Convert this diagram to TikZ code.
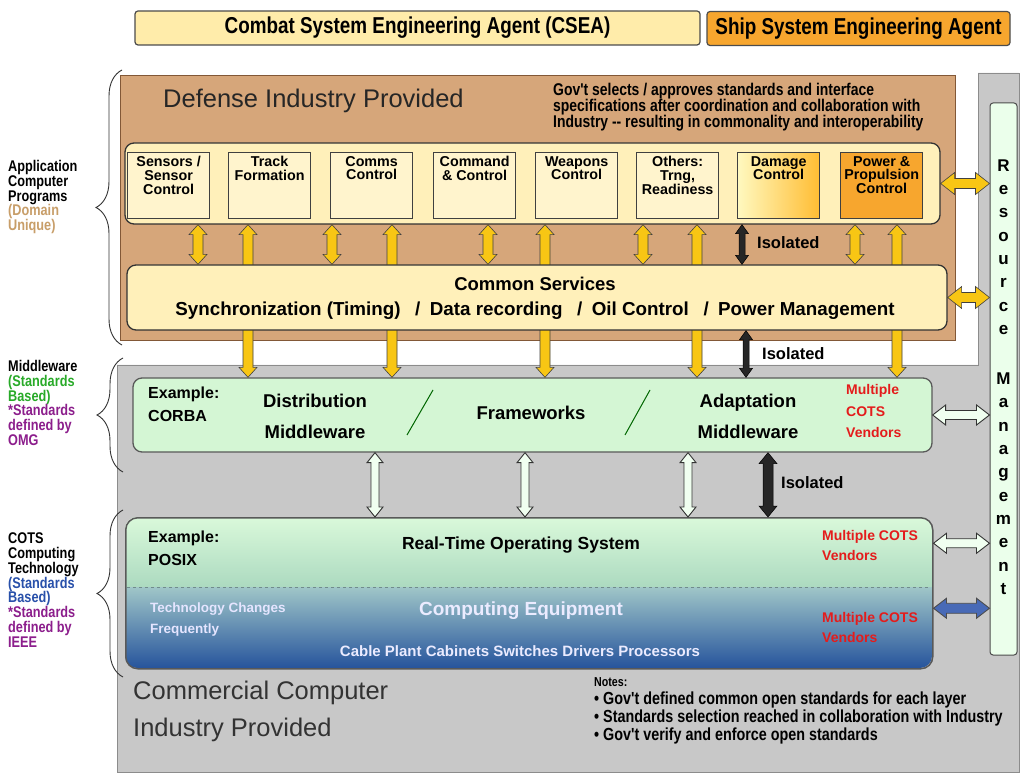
\documentclass[tikz,border=0pt]{standalone}
\usepackage{fontspec}
\setmainfont{Liberation Sans}
\newfontfamily\narrowfont[FakeStretch=0.82]{Liberation Sans}
\usetikzlibrary{positioning,calc,decorations.pathreplacing}

\definecolor{bannerY}{RGB}{255,236,170}
\definecolor{bannerO}{RGB}{247,166,46}
\definecolor{tanbg}{RGB}{214,166,122}
\definecolor{tanline}{RGB}{130,88,55}
\definecolor{creamy}{RGB}{255,240,186}
\definecolor{modfill}{RGB}{255,244,205}
\definecolor{arrowY}{RGB}{248,198,20}
\definecolor{graybg}{RGB}{200,200,200}
\definecolor{mintfill}{RGB}{212,246,212}
\definecolor{cotsMintA}{RGB}{218,249,218}
\definecolor{cotsMintB}{RGB}{172,218,192}
\definecolor{cotsTeal}{RGB}{160,198,200}
\definecolor{cotsBlue}{RGB}{38,84,156}
\definecolor{vendRed}{RGB}{228,28,28}
\definecolor{stdGreen}{RGB}{40,170,40}
\definecolor{stdPurple}{RGB}{140,30,140}
\definecolor{stdBlue}{RGB}{40,80,170}
\definecolor{domainTan}{RGB}{200,158,105}

% sizes of the block arrows (head half width, shaft half width, head length)
\def\ahw{9pt}\def\asw{5pt}\def\ahl{10pt}

% vertical block arrow with two heads, top point first
\newcommand\vblock[3][yellowarrow]{%
  \path[#1] let \p1=(#2), \p2=(#3) in
    (\x1,\y1) -- (\x1+\ahw,\y1-\ahl) -- (\x1+\asw,\y1-\ahl)
    -- (\x1+\asw,\y2+\ahl) -- (\x1+\ahw,\y2+\ahl) -- (\x1,\y2)
    -- (\x1-\ahw,\y2+\ahl) -- (\x1-\asw,\y2+\ahl)
    -- (\x1-\asw,\y1-\ahl) -- (\x1-\ahw,\y1-\ahl) -- cycle;}

% horizontal block arrow with two heads, left point first
\newcommand\hblock[3][yellowarrow]{%
  \path[#1] let \p1=(#2), \p2=(#3) in
    (\x1,\y1) -- (\x1+\ahl,\y1+\ahw) -- (\x1+\ahl,\y1+\asw)
    -- (\x2-\ahl,\y1+\asw) -- (\x2-\ahl,\y1+\ahw) -- (\x2,\y1)
    -- (\x2-\ahl,\y1-\ahw) -- (\x2-\ahl,\y1-\asw)
    -- (\x1+\ahl,\y1-\asw) -- (\x1+\ahl,\y1-\ahw) -- cycle;}

\tikzset{
  arrowsize/.code n args={3}{\def\ahw{#1}\def\asw{#2}\def\ahl{#3}},
  yellowarrow/.style={fill=arrowY, draw=black!75, line width=0.6pt},
  yellowH/.style={yellowarrow, arrowsize={11pt}{5pt}{14pt}},
  isoslim/.style={fill=black!85, draw=black, line width=0.5pt, arrowsize={6.5pt}{3pt}{9pt}},
  isowide/.style={fill=black!85, draw=black, line width=0.5pt, arrowsize={9pt}{5pt}{11pt}},
  greenarrow/.style={fill=green!6, draw=black!80, line width=0.9pt, arrowsize={8pt}{4pt}{10pt}},
  greenH/.style={fill=green!6, draw=black!80, line width=0.9pt, arrowsize={10pt}{4.5pt}{13pt}},
  bluearrow/.style={fill=stdBlue!85, draw=black!70, line width=0.9pt, arrowsize={10pt}{5pt}{13pt}},
  lbrace/.style={decorate, decoration={brace, amplitude=26pt}, line width=0.9pt, black!80},
}

\begin{document}
\begin{tikzpicture}[x=1pt, y=-1pt,
  banner/.style={draw=black!70, line width=1.2pt, rounded corners=3pt, minimum height=34,
    font=\narrowfont\bfseries\fontsize{23}{24}\selectfont},
  panel/.style={anchor=north west, inner sep=0pt},
  group/.style={draw=black!80, line width=1.3pt, rounded corners=9pt, inner sep=0pt},
  modbox/.style={draw=black!75, line width=1.3pt, fill=modfill, minimum width=82, minimum height=66,
    anchor=north west, inner sep=0pt},
  modtext/.style={anchor=north, align=center, inner sep=0pt, yshift=-4pt,
    font=\bfseries\fontsize{14.3}{13.8}\selectfont},
  sidetext/.style={anchor=west, align=left, inner sep=0pt,
    font=\narrowfont\bfseries\fontsize{15.5}{14.8}\selectfont},
  isotext/.style={anchor=west, inner sep=0pt, font=\bfseries\fontsize{16.5}{17}\selectfont},
  vendor/.style={anchor=west, align=left, inner sep=0pt, text=vendRed,
    font=\bfseries\fontsize{14}{20}\selectfont},
  bigtext/.style={inner sep=0pt, font=\bfseries\fontsize{18.5}{31}\selectfont},
]
\useasboundingbox (0,0) rectangle (1028,775);
\fill[white] (0,0) rectangle (1028,775);

% grey background of the commercial part
\filldraw[fill=graybg, draw=black!45] (978,73) -- (1019,73) -- (1019,772) -- (117,772)
  -- (117,365) -- (978,365) -- cycle;

% agents
\node[banner, fill=bannerY, minimum width=565] (csea) at (417.5,28) {Combat System Engineering Agent (CSEA)};
\node[banner, fill=bannerO, minimum width=303] (ssea) at (858.5,28.5) {Ship System Engineering Agent};

% defense industry panel
\node[panel, draw=tanline, line width=1.2pt, fill=tanbg, minimum width=835, minimum height=265] (defense) at (120,75) {};
\node[anchor=west, inner sep=0pt, text=black!85, font=\fontsize{25.5}{27}\selectfont] (deftitle) at (163,101) {Defense Industry Provided};
\node[anchor=north west, align=left, inner sep=0pt, font=\narrowfont\bfseries\fontsize{17}{16}\selectfont] (govnote) at (553,83)
  {Gov't selects / approves standards and interface\\specifications after coordination and collaboration with\\Industry -- resulting in commonality and interoperability};

% application programs
\node[group, fill=creamy, minimum width=815, minimum height=81] (apps) at (532.5,183.5) {};
\node[modbox, label={[modtext]north:{Sensors /\\Sensor\\Control}}] (sens) at (127,152) {};
\node[modbox, label={[modtext]north:{Track\\Formation}}] (track) at (228,152) {};
\node[modbox, label={[modtext]north:{Comms\\Control}}] (comms) at (330,152) {};
\node[modbox, label={[modtext]north:{Command\\\& Control}}] (cmd) at (433,152) {};
\node[modbox, label={[modtext]north:{Weapons\\Control}}] (weap) at (535,152) {};
\node[modbox, label={[modtext]north:{Others:\\Trng,\\Readiness}}] (other) at (636,152) {};
\node[modbox, left color=orange!20!yellow!25, right color=orange!65!yellow!80, label={[modtext]north:{Damage\\Control}}] (damage) at (737,152) {};
\node[modbox, fill=bannerO, label={[modtext]north:{Power \&\\Propulsion\\Control}}] (power) at (840,152) {};

% middleware
\node[group, fill=mintfill, draw=black!65, minimum width=799, minimum height=74] (mw) at (532.5,415) {};
\node[anchor=west, align=left, inner sep=0pt, font=\bfseries\fontsize{16}{23}\selectfont] (corba) at (148,404) {Example:\\CORBA};
\node[bigtext, align=center] (distmw) at (315,416) {Distribution\\Middleware};
\node[bigtext] (frame) at (531,413) {Frameworks};
\node[bigtext, align=center] (adaptmw) at (748,416) {Adaptation\\Middleware};
\node[vendor, font=\bfseries\fontsize{14}{21.5}\selectfont] (mwvend) at (846,411) {Multiple\\COTS\\Vendors};
\draw[black!60!green, line width=1pt] (433,390) -- (407,435);
\draw[black!60!green, line width=1pt] (650,390) -- (625,435);

% COTS computing technology
\begin{scope}
  \clip[rounded corners=12pt] (125,517) rectangle (932,668);
  \shade[top color=cotsMintA, bottom color=cotsMintB] (125,517) rectangle (932,587);
  \shade[top color=cotsTeal, bottom color=cotsBlue] (125,587) rectangle (932,668);
\end{scope}
\node[panel, draw=black!65, line width=1.5pt, rounded corners=12pt, minimum width=807, minimum height=151] (cots) at (125,517) {};
\draw[dashed, cotsTeal!70!black, line width=0.8pt] (127,587) -- (930,587);
\node[anchor=west, align=left, inner sep=0pt, font=\bfseries\fontsize{16}{23}\selectfont] (posix) at (148,548) {Example:\\POSIX};
\node[inner sep=0pt, font=\bfseries\fontsize{17.5}{19}\selectfont] (rtos) at (521,545) {Real-Time Operating System};
\node[vendor] (osvend) at (822,545) {Multiple COTS\\Vendors};
\node[anchor=west, align=left, inner sep=0pt, text=white!90!blue, font=\bfseries\fontsize{13.5}{21}\selectfont] (techchg) at (150,620) {Technology Changes\\Frequently};
\node[inner sep=0pt, text=white!92!blue, font=\bfseries\fontsize{19}{21}\selectfont] (compeq) at (521,611) {Computing Equipment};
\node[inner sep=0pt, text=white!92!blue, font=\bfseries\fontsize{15}{17}\selectfont] (cable) at (520,651) {Cable Plant Cabinets Switches Drivers Processors};
\node[vendor] (eqvend) at (822,627) {Multiple COTS\\Vendors};

% resource management
\node[draw=black!70, line width=1pt, fill=green!8, rounded corners=3pt, minimum width=27, minimum height=552, inner sep=0pt] (rm) at (1003.5,379) {};
\node[align=center, inner sep=0pt, font=\bfseries\fontsize{17}{23.3}\selectfont] (rmtext) at (1003.5,377)
  {R\\e\\s\\o\\u\\r\\c\\e\\[27pt]M\\a\\n\\a\\g\\e\\m\\e\\n\\t};

% links from middleware up to the applications
\foreach \xx in {248,392,545,697,897}
  \vblock{\xx,0 |- apps.south}{\xx,0 |- mw.north};

% common services
\node[group, fill=creamy, minimum width=820, minimum height=65] (cs) at (537,297.5) {};
\node[inner sep=0pt, font=\bfseries\fontsize{18.5}{20}\selectfont] (cstitle) at (535,284) {Common Services};
\node[inner sep=0pt, font=\bfseries\fontsize{18.8}{20}\selectfont] (cslist) at (535,311)
  {Synchronization (Timing) \enspace/\enspace Data recording \enspace/\enspace Oil Control \enspace/\enspace Power Management};

\foreach \xx in {198,332,488,643,855}
  \vblock{\xx,0 |- apps.south}{\xx,0 |- cs.north};
\vblock[isoslim]{742,0 |- apps.south}{742,0 |- cs.north};
\node[isotext] (iso1) at (757,243) {Isolated};
\vblock[isoslim]{746,0 |- cs.south}{746,0 |- mw.north};
\node[isotext] (iso2) at (762,354) {Isolated};

\foreach \xx in {375,525,688}
  \vblock[greenarrow]{\xx,0 |- mw.south}{\xx,0 |- cots.north};
\vblock[isowide]{768,0 |- mw.south}{768,0 |- cots.north};
\node[isotext] (iso3) at (781,483) {Isolated};

% links to resource management
\hblock[yellowH]{apps.east}{rm.west |- apps.east};
\hblock[yellowH]{cs.east}{rm.west |- cs.east};
\hblock[greenH]{mw.east}{rm.west |- mw.east};
\hblock[greenH]{$(cots.east)+(0,-50)$}{$(rm.west |- cots.east)+(0,-50)$};
\hblock[bluearrow]{$(cots.east)+(0,15)$}{$(rm.west |- cots.east)+(0,15)$};

% commercial industry and notes
\node[anchor=north west, align=left, inner sep=0pt, text=black!80, font=\fontsize{25.5}{37}\selectfont] (comind) at (133,681)
  {Commercial Computer\\Industry Provided};
\node[anchor=north west, align=left, inner sep=0pt, font=\narrowfont\bfseries\fontsize{17.5}{18}\selectfont] (notes) at (594,677)
  {{\fontsize{13}{14}\selectfont Notes:}\\
   • Gov't defined common open standards for each layer\\
   • Standards selection reached in collaboration with Industry\\
   • Gov't verify and enforce open standards};

% layer labels on the left
\node[sidetext] (applbl) at (8,197) {Application\\Computer\\Programs\\\textcolor{domainTan}{(Domain}\\\textcolor{domainTan}{Unique)}};
\node[sidetext] (mwlbl) at (8,403) {Middleware\\\textcolor{stdGreen}{(Standards}\\\textcolor{stdGreen}{Based)}\\\textcolor{stdPurple}{*Standards}\\\textcolor{stdPurple}{defined by}\\\textcolor{stdPurple}{OMG}};
\node[sidetext] (cotslbl) at (8,590) {COTS\\Computing\\Technology\\\textcolor{stdBlue}{(Standards}\\\textcolor{stdBlue}{Based)}\\\textcolor{stdPurple}{*Standards}\\\textcolor{stdPurple}{defined by}\\\textcolor{stdPurple}{IEEE}};
\draw[lbrace] (122,345) -- (122,70);
\draw[lbrace] (123,472) -- (123,358);
\draw[lbrace] (123,677) -- (123,510);
\end{tikzpicture}
\end{document}
